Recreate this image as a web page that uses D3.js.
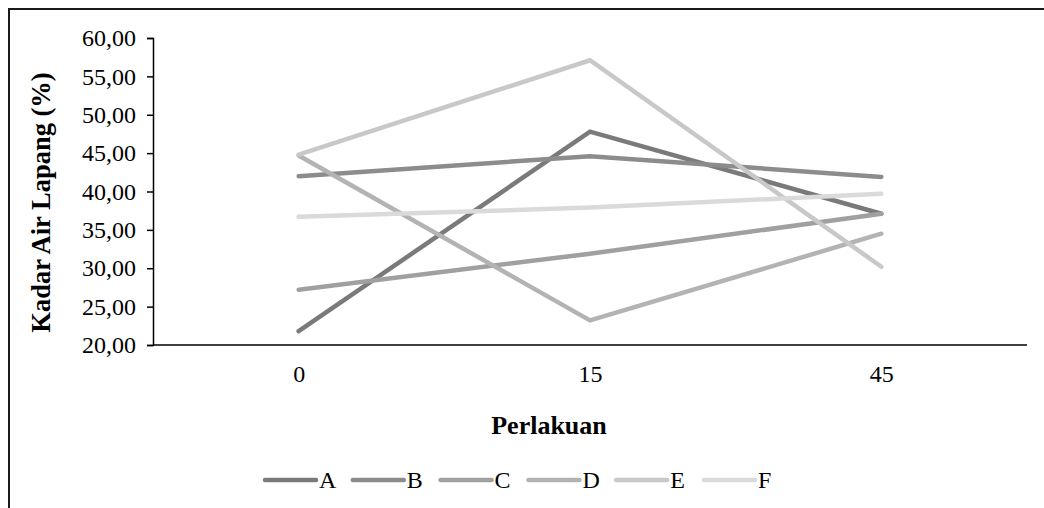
<!DOCTYPE html>
<html>
<head>
<meta charset="utf-8">
<script src="https://cdn.jsdelivr.net/npm/d3@7"></script>
<style>
  html, body { margin: 0; padding: 0; background: #fff; }
  svg { display: block; }
  text { font-family: "Liberation Serif", "Times New Roman", serif; fill: #000; }
</style>
</head>
<body>
<svg id="chart" width="1044" height="508"></svg>
<script>
const categories = ["0", "15", "45"];
const seriesNames = ["A", "B", "C", "D", "E", "F"];
const seriesA = [21.8, 47.8, 37.1];
const seriesB = [42.0, 44.6, 41.9];
const seriesC = [27.2, 31.9, 37.1];
const seriesD = [44.7, 23.2, 34.5];
const seriesE = [44.8, 57.1, 30.2];
const seriesF = [36.7, 37.9, 39.7];
const yTicks = [20, 25, 30, 35, 40, 45, 50, 55, 60];
const colors = ["#7a7a7a", "#8c8c8c", "#a0a0a0", "#b3b3b3", "#c8c8c8", "#dadada"];

const series = [seriesA, seriesB, seriesC, seriesD, seriesE, seriesF];

const svg = d3.select("#chart");

// outer frame
svg.append("rect")
  .attr("x", 9).attr("y", 9)
  .attr("width", 1100).attr("height", 600)
  .attr("fill", "none").attr("stroke", "#1a1a1a").attr("stroke-width", 2);

const plotLeft = 153, plotRight = 1027, plotTop = 38, plotBottom = 345;

const x = d3.scalePoint().domain(categories).range([plotLeft, plotRight]).padding(0.5);
const y = d3.scaleLinear().domain([20, 60]).range([plotBottom, plotTop]);

// Y axis
const yAxis = svg.append("g").attr("transform", `translate(${plotLeft},0)`)
  .call(d3.axisLeft(y).tickValues(yTicks).tickSize(6).tickPadding(11)
    .tickFormat(d => d3.format(".2f")(d).replace(".", ",")));
yAxis.select(".domain").attr("stroke", "#000").attr("stroke-width", 1.5);
yAxis.selectAll(".tick line").attr("stroke", "#000").attr("stroke-width", 1.5);
yAxis.selectAll(".tick text").style("font-size", "24px").attr("fill", "#000")
  .style("font-family", "'Liberation Serif', serif");

// X axis
const xAxis = svg.append("g").attr("transform", `translate(0,${plotBottom})`)
  .call(d3.axisBottom(x).tickSize(0).tickPadding(20));
xAxis.select(".domain").attr("d", `M${plotLeft},0H${plotRight}`).attr("stroke", "#000").attr("stroke-width", 1.5);
xAxis.selectAll(".tick text").style("font-size", "24px").attr("fill", "#000")
  .style("font-family", "'Liberation Serif', serif");

// lines
const line = d3.line().x((d, i) => x(categories[i])).y(d => y(d));
series.forEach((s, i) => {
  svg.append("path")
    .datum(s)
    .attr("d", line)
    .attr("fill", "none")
    .attr("stroke", colors[i])
    .attr("stroke-width", 4.5)
    .attr("stroke-linecap", "round")
    .attr("stroke-linejoin", "miter");
});

// axis titles
svg.append("text")
  .attr("transform", `translate(50,${(72 + 333) / 2}) rotate(-90)`)
  .attr("text-anchor", "middle")
  .style("font-size", "26.5px").style("font-weight", "bold")
  .text("Kadar Air Lapang (%)");

svg.append("text")
  .attr("x", 549).attr("y", 434)
  .attr("text-anchor", "middle")
  .style("font-size", "26px").style("font-weight", "bold")
  .text("Perlakuan");

// legend
const legend = svg.append("g");
seriesNames.forEach((name, i) => {
  const lx = 265 + i * 87.8;
  const ly = 480;
  legend.append("line")
    .attr("x1", lx).attr("x2", lx + 51)
    .attr("y1", ly).attr("y2", ly)
    .attr("stroke", colors[i]).attr("stroke-width", 4.5)
    .attr("stroke-linecap", "round");
  legend.append("text")
    .attr("x", lx + 54).attr("y", ly + 8)
    .style("font-size", "24px")
    .text(name);
});
</script>
</body>
</html>
